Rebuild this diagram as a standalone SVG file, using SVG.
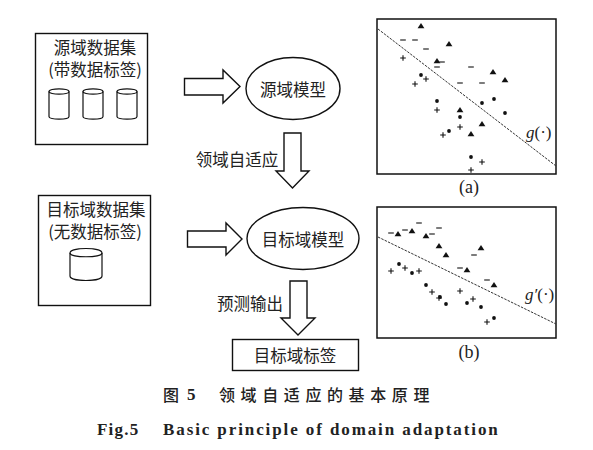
<svg xmlns="http://www.w3.org/2000/svg" width="593" height="450" viewBox="0 0 593 450">
<style>
.b{fill:#fff;stroke:#111;stroke-width:1.4}
.c{fill:none;stroke:#111;stroke-width:1.2}
.t{font-family:"Noto Sans CJK SC","Liberation Sans",sans-serif;font-size:16.5px;fill:#222;text-anchor:middle;dominant-baseline:central}
.d{stroke:#333;stroke-width:1;stroke-dasharray:2.5 1.2;fill:none}
.m{stroke:#111;stroke-width:1.1;fill:none}
.s{font-family:"Liberation Serif",serif;fill:#222}
.cap{font-family:"Noto Sans CJK SC",sans-serif;font-size:16px;font-weight:500;fill:#222;dominant-baseline:central}
</style>
<defs>
<path id="tri" d="M-3.4 2.200H3.400L0-2.900Z" fill="#111"/>
<path id="min" d="M-2.800 0H2.800" class="m"/>
<path id="pls" d="M-2.800 0H2.800M0-2.800V2.800" class="m"/>
<circle id="dot" r="1.9" fill="#111"/>
<g id="cyl"><path class="c" d="M0 3.500C0 0 20 0 20 3.500V28.500C20 32 0 32 0 28.500Z"/><path class="c" d="M0 3.500C0 7 20 7 20 3.500"/></g>
</defs>

<g id="source-data">
<rect class="b" x="35.500" y="33.500" width="112" height="111"/>
<text class="t" x="95" y="47">源域数据集</text>
<text class="t" x="95" y="69">(带数据标签)</text>
<use href="#cyl" x="49" y="88"/><use href="#cyl" x="83" y="88"/><use href="#cyl" x="117" y="88"/>
</g>
<g id="source-model">
<ellipse class="b" cx="293" cy="88.500" rx="47" ry="31"/>
<text class="t" x="293" y="89">源域模型</text>
</g>
<g id="target-data">
<rect class="b" x="38.500" y="195.500" width="112" height="110"/>
<text class="t" x="96" y="209">目标域数据集</text>
<text class="t" x="95" y="231">(无数据标签)</text>
<path class="c" d="M70 253C70 247 102 247 102 253V276C102 282 70 282 70 276Z"/>
<path class="c" d="M70 253C70 258 102 258 102 253"/>
</g>
<g id="target-model">
<ellipse class="b" cx="303" cy="238.500" rx="56" ry="31"/>
<text class="t" x="303" y="239">目标域模型</text>
</g>
<g id="target-label">
<rect class="b" x="232.500" y="339.500" width="126" height="31"/>
<text class="t" x="295" y="355">目标域标签</text>
</g>

<g id="connectors">
<path class="b" d="M184.500 78.500H223V70L240 86.500L223 103V95H184.500Z"/>
<path class="b" d="M187.500 231H226V223L242 239L226 255V247H187.500Z"/>
<path class="b" d="M284 133H301V171H309L292.500 188L276 171H284Z"/>
<path class="b" d="M290 281H307V318H315L298 335L281 318H290Z"/>
<text class="t" x="237" y="159">领域自适应</text>
<text class="t" x="250" y="303">预测输出</text>
</g>

<g id="plot-a">
<rect x="377" y="19" width="179" height="155" fill="#fff" stroke="#111" stroke-width="1.500"/>
<path class="d" d="M378 29L556 166"/>
<use href="#tri" x="421" y="26"/><use href="#tri" x="449" y="44"/><use href="#tri" x="437" y="61"/><use href="#tri" x="493" y="72"/><use href="#tri" x="505" y="80"/><use href="#tri" x="460" y="110"/><use href="#tri" x="482" y="124"/><use href="#tri" x="471" y="134"/>
<use href="#min" x="403" y="40"/><use href="#min" x="415" y="40"/><use href="#min" x="426" y="49"/><use href="#min" x="442" y="62"/><use href="#min" x="437" y="67"/><use href="#min" x="471" y="67"/><use href="#min" x="460" y="83"/><use href="#min" x="482" y="83"/>
<use href="#pls" x="403" y="58"/><use href="#pls" x="426" y="79"/><use href="#pls" x="415" y="84"/><use href="#pls" x="437" y="110"/><use href="#pls" x="460" y="127"/><use href="#pls" x="443" y="135"/><use href="#pls" x="482" y="162"/><use href="#pls" x="471" y="170"/>
<use href="#dot" x="421" y="75"/><use href="#dot" x="437" y="101"/><use href="#dot" x="482" y="103"/><use href="#dot" x="494" y="99"/><use href="#dot" x="505" y="113"/><use href="#dot" x="460" y="117"/><use href="#dot" x="449" y="131"/><use href="#dot" x="471" y="157"/>
<text class="s" x="526" y="138" font-size="17"><tspan font-style="italic">g</tspan>(·)</text>
<text class="s" x="469" y="193" font-size="18" text-anchor="middle">(a)</text>
</g>

<g id="plot-b">
<rect x="377" y="207" width="179" height="131" fill="#fff" stroke="#111" stroke-width="1.500"/>
<path class="d" d="M378 237L556 324"/>
<use href="#tri" x="398" y="234"/><use href="#tri" x="412" y="231"/><use href="#tri" x="426" y="236"/><use href="#tri" x="439" y="246"/><use href="#tri" x="446" y="255"/><use href="#tri" x="481" y="248"/><use href="#tri" x="467" y="270"/><use href="#tri" x="494" y="285"/>
<use href="#min" x="391" y="233"/><use href="#min" x="405" y="230"/><use href="#min" x="419" y="223"/><use href="#min" x="432" y="234"/><use href="#min" x="439" y="228"/><use href="#min" x="474" y="255"/><use href="#min" x="460" y="268"/><use href="#min" x="487" y="280"/>
<use href="#pls" x="391" y="271"/><use href="#pls" x="405" y="268"/><use href="#pls" x="419" y="271"/><use href="#pls" x="432" y="292"/><use href="#pls" x="439" y="298"/><use href="#pls" x="460" y="291"/><use href="#pls" x="473" y="299"/><use href="#pls" x="487" y="322"/>
<use href="#dot" x="399" y="264"/><use href="#dot" x="412" y="273"/><use href="#dot" x="426" y="285"/><use href="#dot" x="440" y="297"/><use href="#dot" x="446" y="304"/><use href="#dot" x="467" y="303"/><use href="#dot" x="481" y="307"/><use href="#dot" x="494" y="318"/>
<text class="s" x="525" y="300" font-size="17"><tspan font-style="italic">g′</tspan>(·)</text>
<text class="s" x="469" y="358" font-size="18" text-anchor="middle">(b)</text>
</g>

<text class="cap" x="163" y="394">图</text>
<text class="s" x="187" y="400" font-size="17" font-weight="bold">5</text>
<text class="cap" x="219" y="394" letter-spacing="5.600">领域自适应的基本原理</text>
<text class="s" x="97" y="435" font-size="17" font-weight="bold" letter-spacing="1.200">Fig.5</text>
<text class="s" x="163" y="435" font-size="17" font-weight="bold" letter-spacing="1.900">Basic principle of domain adaptation</text>
</svg>
